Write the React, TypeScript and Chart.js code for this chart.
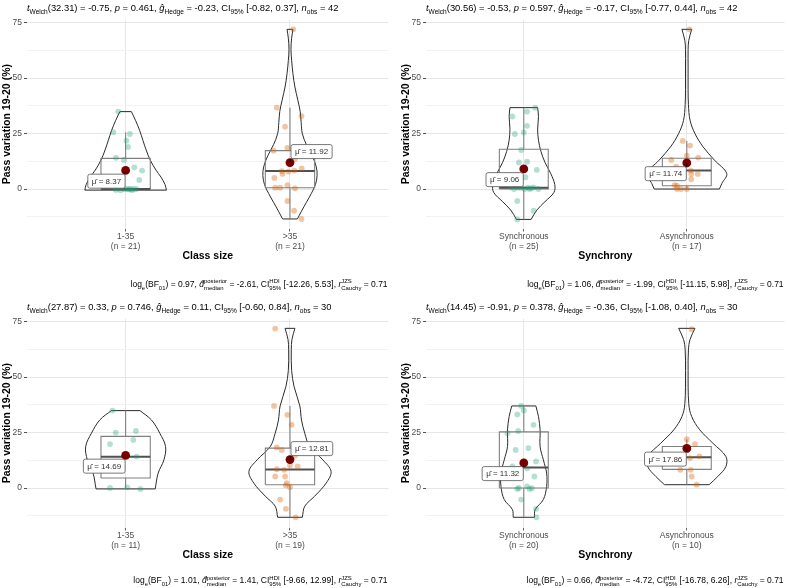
import React, { useEffect, useRef } from "react";
import { Chart, registerables } from "chart.js";

Chart.register(...registerables);

const FONT = '"Liberation Sans", Arial, Helvetica, sans-serif';
Chart.defaults.font.family = FONT;

// ---------------- shared ----------------
const yAxisTitle = "Pass variation 19-20 (%)";
const yTickValues = [-12.5, 0, 12.5, 25, 37.5, 50, 62.5, 75];
const yMin = -17.8;
const yMax = 76.3;

// ---------------- Panel 1 : Class size (all) ----------------
const p1Categories = ["1-35", ">35"];
const p1Counts = [21, 21];
const p1XTitle = "Class size";
const p1G1Values = [34.9, 25.6, 24.8, 21.8, 19.0, 14.1, 13.1, 9.8, 8.3, 4.1, 0.4, 0.2, 0, 0, 0, 0, 0, -0.2, -0.4, -0.5, -0.5];
const p1G1Jitter = [-0.045, -0.075, 0.026, 0.005, 0.015, -0.059, -0.01, 0.053, 0.1, 0.083, -0.075, -0.045, -0.01, 0.025, 0.045, 0.065, 0.005, 0.02, -0.06, -0.03, 0.04];
const p1G2Values = [72.0, 36.7, 32.9, 28.1, 18.5, 17.3, 13.5, 12.0, 9.3, 8.3, 8.1, 7.8, 6.8, 5.0, 1.7, 0.6, 0.6, 0.3, -5.4, -9.8, -13.5];
const p1G2Jitter = [0.02, -0.08, 0.07, -0.03, -0.016, -0.1, 0.03, 0.0, 0.071, 0.026, -0.05, -0.01, -0.045, -0.095, -0.015, -0.09, -0.06, 0.03, -0.015, 0.025, 0.07];
const p1G1Box = [-0.5, 0, 0, 13.8, 25.6]; // lower whisker, q1, median, q3, upper whisker
const p1G2Box = [-13.5, 0.6, 8.1, 17.3, 36.7];
const p1Means = [8.37, 11.92];
const p1G1ViolinY = [34.9, 31, 26.5, 22, 17.6, 13, 8.5, 5.4, 2, -0.5];
const p1G1ViolinW = [0.035, 0.06, 0.085, 0.105, 0.125, 0.15, 0.185, 0.215, 0.24, 0.248];
const p1G2ViolinY = [72, 68, 63, 58, 52, 46, 40, 35, 30, 25, 20, 15, 10, 6, 2, -2, -6, -10, -13.5];
const p1G2ViolinW = [0.018, 0.01, 0.006, 0.01, 0.018, 0.03, 0.048, 0.062, 0.068, 0.075, 0.1, 0.135, 0.16, 0.165, 0.155, 0.13, 0.1, 0.07, 0.045];
const p1Subtitle = ["32.31", "-0.75", "0.461", "-0.23", "-0.82", "0.37", "42"];
const p1Caption = ["0.97", "-2.61", "-12.26", "5.53", "0.71"];

// ---------------- Panel 2 : Synchrony (all) ----------------
const p2Categories = ["Synchronous", "Asynchronous"];
const p2Counts = [25, 17];
const p2XTitle = "Synchrony";
const p2G1Values = [36.7, 34.9, 32.7, 28.5, 25.5, 24.8, 17.6, 12.3, 12.0, 9.0, 8.6, 5.3, 0.8, 0.7, 0.6, 0.6, 0.6, 0.3, 0, 0, 0, 0, -5.4, -9.8, -13.7];
const p2G1Jitter = [0.07, 0.02, -0.07, 0.02, 0.0, -0.055, -0.016, 0.02, -0.03, 0.0, 0.08, 0.01, -0.08, 0.06, -0.035, -0.015, 0.025, 0.045, -0.06, 0.005, 0.035, 0.09, -0.04, 0.06, -0.04];
const p2G2Values = [72.0, 21.7, 19.6, 15.0, 14.2, 13.1, 10.1, 8.5, 8.3, 6.8, 6.8, 4.4, 1.8, 1.5, 0, 0, 0];
const p2G2Jitter = [0.016, -0.025, 0.02, 0.0, 0.07, -0.095, -0.065, -0.03, 0.025, 0.027, 0.067, 0.027, -0.075, -0.06, -0.06, -0.035, 0.0];
const p2G1Box = [-13.7, 0, 0.6, 17.9, 36.7];
const p2G2Box = [0, 1.5, 8.3, 13.9, 21.7];
const p2Means = [9.06, 11.74];
const p2G1ViolinY = [36.7, 32.7, 27, 22, 17, 12, 7, 2, -1.5, -5.7, -9.5, -13.7];
const p2G1ViolinW = [0.085, 0.09, 0.085, 0.09, 0.105, 0.13, 0.165, 0.19, 0.185, 0.13, 0.08, 0.045];
const p2G2ViolinY = [72, 67, 62.8, 55, 45, 38, 31, 25, 19, 13, 7, 2.5, 0];
const p2G2ViolinW = [0.03, 0.012, 0.008, 0.008, 0.008, 0.01, 0.02, 0.05, 0.1, 0.17, 0.245, 0.215, 0.2];
const p2Subtitle = ["30.56", "-0.53", "0.597", "-0.17", "-0.77", "0.44", "42"];
const p2Caption = ["1.06", "-1.99", "-11.15", "5.98", "0.71"];

// ---------------- Panel 3 : Class size (subset) ----------------
const p3Categories = ["1-35", ">35"];
const p3Counts = [11, 19];
const p3XTitle = "Class size";
const p3G1Values = [34.9, 25.7, 25.0, 21.7, 19.8, 14.2, 11.7, 8.7, 0.3, 0, -0.4];
const p3G1Jitter = [-0.08, 0.063, -0.06, 0.047, -0.095, 0.067, -0.04, -0.07, 0.01, -0.095, 0.09];
const p3G2Values = [71.9, 37.0, 33.0, 28.5, 18.3, 17.2, 14.5, 10.2, 9.7, 8.5, 8.2, 5.2, 5.2, 2.2, 1.2, 0.4, -5.2, -9.4, -13.2];
const p3G2Jitter = [-0.09, -0.097, -0.016, 0.01, -0.08, -0.05, 0.03, 0.0, 0.047, -0.08, -0.035, -0.09, -0.03, -0.02, -0.025, 0.0, -0.06, -0.025, 0.035];
const p3G1Box = [-0.4, 4.5, 14.1, 23.3, 34.9];
const p3G2Box = [-13.2, 1.5, 8.4, 18.0, 37.0];
const p3Means = [14.69, 12.81];
const p3G1ViolinY = [34.9, 30.7, 24.7, 18.7, 12.7, 6.7, -0.4];
const p3G1ViolinW = [0.087, 0.157, 0.208, 0.243, 0.233, 0.198, 0.18];
const p3G2ViolinY = [72, 67, 62.3, 53, 45.7, 37, 30.7, 24.7, 18.7, 12.7, 7.5, 2.2, -3.7, -8.2, -13.2];
const p3G2ViolinW = [0.03, 0.012, 0.008, 0.01, 0.025, 0.06, 0.07, 0.09, 0.12, 0.2, 0.25, 0.22, 0.15, 0.09, 0.075];
const p3Subtitle = ["27.87", "0.33", "0.746", "0.11", "-0.60", "0.84", "30"];
const p3Caption = ["1.01", "1.41", "-9.66", "12.99", "0.71"];

// ---------------- Panel 4 : Synchrony (subset) ----------------
const p4Categories = ["Synchronous", "Asynchronous"];
const p4Counts = [20, 10];
const p4XTitle = "Synchrony";
const p4G1Values = [37.0, 35.0, 33.2, 28.5, 25.7, 24.7, 18.0, 17.2, 12.0, 9.7, 8.9, 5.2, 0.7, 0, -0.1, -0.4, -0.4, -5.2, -9.4, -13.2];
const p4G1Jitter = [-0.016, 0.0, -0.04, 0.06, -0.034, -0.1, 0.028, -0.05, 0.075, -0.07, 0.02, 0.065, 0.02, -0.03, 0.05, -0.04, 0.035, -0.016, 0.075, 0.077];
const p4G2Values = [71.6, 22.0, 19.8, 17.0, 14.3, 13.5, 8.2, 8.2, 5.2, 1.5];
const p4G2Jitter = [0.03, 0.0, 0.05, 0.0, 0.077, 0.02, -0.04, 0.024, 0.03, 0.06];
const p4G1Box = [-13.2, 0, 9.3, 25.3, 37.0];
const p4G2Box = [1.5, 8.4, 13.9, 18.7, 22.0];
const p4Means = [11.32, 17.86];
const p4G1ViolinY = [37, 32.2, 26.2, 18.7, 12.7, 6.7, 0.7, -5.2, -9.7, -13.2];
const p4G1ViolinW = [0.074, 0.09, 0.1, 0.1, 0.12, 0.14, 0.14, 0.12, 0.07, 0.065];
const p4G2ViolinY = [72, 67, 62.3, 53, 38, 32.2, 26.2, 20.2, 14.2, 9.7, 5.2, 1.5];
const p4G2ViolinW = [0.05, 0.02, 0.01, 0.008, 0.012, 0.03, 0.08, 0.16, 0.24, 0.24, 0.19, 0.137];
const p4Subtitle = ["14.45", "-0.91", "0.378", "-0.36", "-1.08", "0.40", "30"];
const p4Caption = ["0.66", "-4.72", "-16.78", "6.26", "0.71"];

// ---------------- styling ----------------
const POINT_COLORS = ["rgba(27,158,119,0.33)", "rgba(217,95,2,0.36)"];
const MEAN_COLOR = "#7A0000";
const VIOLIN_COLOR = "#2b2b2b";
const BOX_COLOR = "#808080";
const MEDIAN_COLOR = "#505050";

type Part = { t: string; it?: boolean; sub?: string; sup?: string };

function subtitleParts(s: string[]): Part[] {
  return [
    { t: "t", it: true, sub: "Welch" },
    { t: `(${s[0]}) = ${s[1]}, ` },
    { t: "p", it: true },
    { t: ` = ${s[2]}, ` },
    { t: "g\u0302", it: true, sub: "Hedge" },
    { t: ` = ${s[3]}, CI`, sub: "95%" },
    { t: ` [${s[4]}, ${s[5]}], ` },
    { t: "n", it: true, sub: "obs" },
    { t: ` = ${s[6]}` },
  ];
}

function captionParts(c: string[]): Part[] {
  return [
    { t: "log", sub: "e" },
    { t: "(BF", sub: "01" },
    { t: `) = ${c[0]}, ` },
    { t: "d\u0302", it: true, sup: "posterior", sub: "median" },
    { t: ` = ${c[1]}, CI`, sup: "HDI", sub: "95%" },
    { t: ` [${c[2]}, ${c[3]}], ` },
    { t: "r", it: true, sup: "JZS", sub: "Cauchy" },
    { t: ` = ${c[4]}` },
  ];
}

function drawRich(ctx: CanvasRenderingContext2D, parts: Part[], x: number, yMid: number, size: number, align: "left" | "right", color: string) {
  const ss = size * 0.7;
  const mf = (it?: boolean) => `${it ? "italic " : ""}${size}px ${FONT}`;
  const sf = `${ss}px ${FONT}`;
  const meas = parts.map((p) => {
    ctx.font = mf(p.it);
    const w = ctx.measureText(p.t).width;
    ctx.font = sf;
    const a = p.sub ? ctx.measureText(p.sub).width : 0;
    const b = p.sup ? ctx.measureText(p.sup).width : 0;
    return [w, Math.max(a, b)];
  });
  const total = meas.reduce((s, m) => s + m[0] + m[1], 0);
  let cx = align === "left" ? x : x - total;
  const base = yMid + size * 0.35;
  ctx.save();
  ctx.fillStyle = color;
  ctx.textAlign = "left";
  ctx.textBaseline = "alphabetic";
  parts.forEach((p, i) => {
    ctx.font = mf(p.it);
    ctx.fillText(p.t, cx, base);
    cx += meas[i][0];
    ctx.font = sf;
    if (p.sub) ctx.fillText(p.sub, cx, base + size * 0.3);
    if (p.sup) ctx.fillText(p.sup, cx, base - size * 0.45);
    cx += meas[i][1];
  });
  ctx.restore();
}

type PanelData = {
  cats: string[];
  counts: number[];
  xTitle: string;
  values: number[][];
  jitter: number[][];
  box: number[][];
  means: number[];
  violinY: number[][];
  violinW: number[][];
  subtitle: string[];
  caption: string[];
  labelSide: ("left" | "right")[];
};

const panels: PanelData[] = [
  {
    cats: p1Categories, counts: p1Counts, xTitle: p1XTitle,
    values: [p1G1Values, p1G2Values], jitter: [p1G1Jitter, p1G2Jitter],
    box: [p1G1Box, p1G2Box], means: p1Means,
    violinY: [p1G1ViolinY, p1G2ViolinY], violinW: [p1G1ViolinW, p1G2ViolinW],
    subtitle: p1Subtitle, caption: p1Caption, labelSide: ["left", "right"],
  },
  {
    cats: p2Categories, counts: p2Counts, xTitle: p2XTitle,
    values: [p2G1Values, p2G2Values], jitter: [p2G1Jitter, p2G2Jitter],
    box: [p2G1Box, p2G2Box], means: p2Means,
    violinY: [p2G1ViolinY, p2G2ViolinY], violinW: [p2G1ViolinW, p2G2ViolinW],
    subtitle: p2Subtitle, caption: p2Caption, labelSide: ["left", "left"],
  },
  {
    cats: p3Categories, counts: p3Counts, xTitle: p3XTitle,
    values: [p3G1Values, p3G2Values], jitter: [p3G1Jitter, p3G2Jitter],
    box: [p3G1Box, p3G2Box], means: p3Means,
    violinY: [p3G1ViolinY, p3G2ViolinY], violinW: [p3G1ViolinW, p3G2ViolinW],
    subtitle: p3Subtitle, caption: p3Caption, labelSide: ["left", "right"],
  },
  {
    cats: p4Categories, counts: p4Counts, xTitle: p4XTitle,
    values: [p4G1Values, p4G2Values], jitter: [p4G1Jitter, p4G2Jitter],
    box: [p4G1Box, p4G2Box], means: p4Means,
    violinY: [p4G1ViolinY, p4G2ViolinY], violinW: [p4G1ViolinW, p4G2ViolinW],
    subtitle: p4Subtitle, caption: p4Caption, labelSide: ["left", "left"],
  },
];

function lineSet(data: { x: number; y: number }[], color: string, width: number, order: number, tension = 0) {
  return {
    data, showLine: true, borderColor: color, borderWidth: width,
    pointRadius: 0, pointHoverRadius: 0, tension, order, fill: false,
  };
}

function buildConfig(P: PanelData, padRight: number, padBottom: number, captionY: number): any {
  const datasets: any[] = [];
  for (let g = 0; g < 2; g++) {
    const c = g + 1;
    const vy = P.violinY[g];
    const vw = P.violinW[g];
    // violin outline
    datasets.push(lineSet(vy.map((y, k) => ({ x: c - vw[k], y })), VIOLIN_COLOR, 1, 6, 0.35));
    datasets.push(lineSet(vy.map((y, k) => ({ x: c + vw[k], y })), VIOLIN_COLOR, 1, 6, 0.35));
    const last = vy.length - 1;
    datasets.push(lineSet([{ x: c - vw[0], y: vy[0] }, { x: c + vw[0], y: vy[0] }], VIOLIN_COLOR, 1, 6));
    datasets.push(lineSet([{ x: c - vw[last], y: vy[last] }, { x: c + vw[last], y: vy[last] }], VIOLIN_COLOR, 1, 6));
    // box
    const [lo, q1, med, q3, hi] = P.box[g];
    const hb = 0.15;
    datasets.push(lineSet([
      { x: c - hb, y: q1 }, { x: c + hb, y: q1 }, { x: c + hb, y: q3 }, { x: c - hb, y: q3 }, { x: c - hb, y: q1 },
    ], BOX_COLOR, 1.1, 5));
    datasets.push(lineSet([{ x: c, y: q3 }, { x: c, y: hi }], BOX_COLOR, 1.1, 5));
    datasets.push(lineSet([{ x: c, y: q1 }, { x: c, y: lo }], BOX_COLOR, 1.1, 5));
    datasets.push(lineSet([{ x: c - hb, y: med }, { x: c + hb, y: med }], MEDIAN_COLOR, 2, 4));
    // jittered points
    datasets.push({
      data: P.values[g].map((v, k) => ({ x: c + P.jitter[g][k], y: v })),
      showLine: false, pointRadius: 2.9, pointHoverRadius: 2.9, pointBorderWidth: 0,
      pointBackgroundColor: POINT_COLORS[g], backgroundColor: POINT_COLORS[g], borderColor: "rgba(0,0,0,0)", order: 2,
    });
    // mean
    datasets.push({
      data: [{ x: c, y: P.means[g] }],
      showLine: false, pointRadius: 4.4, pointHoverRadius: 4.4, pointBorderWidth: 0,
      pointBackgroundColor: MEAN_COLOR, backgroundColor: MEAN_COLOR, borderColor: "rgba(0,0,0,0)", order: 1,
    });
  }

  const annot = {
    id: "annot",
    afterDraw(chart: any) {
      const ctx: CanvasRenderingContext2D = chart.ctx;
      const area = chart.chartArea;
      const xs = chart.scales.x;
      const ys = chart.scales.y;
      // mean labels
      for (let g = 0; g < 2; g++) {
        const px = xs.getPixelForValue(g + 1);
        const py = ys.getPixelForValue(P.means[g]);
        const text = `\u03BC\u0302 = ${P.means[g].toFixed(2)}`;
        ctx.save();
        ctx.font = `8px ${FONT}`;
        const tw = ctx.measureText(text).width;
        const w = tw + 8;
        const h = 14;
        let bx: number, by: number, cx: number, cy: number;
        if (P.labelSide[g] === "left") {
          bx = px - 0.5 - w; by = py + 3.7; cx = bx + w; cy = by;
        } else {
          bx = px + 1; by = py - 4 - h; cx = bx; cy = by + h;
        }
        ctx.strokeStyle = "#000";
        ctx.lineWidth = 0.7;
        ctx.beginPath(); ctx.moveTo(cx, cy); ctx.lineTo(px, py); ctx.stroke();
        ctx.beginPath();
        ctx.roundRect(bx, by, w, h, 2);
        ctx.fillStyle = "#ffffff";
        ctx.fill();
        ctx.strokeStyle = "#555";
        ctx.lineWidth = 0.8;
        ctx.stroke();
        ctx.fillStyle = "#333";
        ctx.textAlign = "center";
        ctx.textBaseline = "middle";
        ctx.fillText(text, bx + w / 2, by + h / 2 + 0.5);
        ctx.restore();
      }
      drawRich(ctx, subtitleParts(P.subtitle), area.left, 7.5, 9.4, "left", "#000");
      drawRich(ctx, captionParts(P.caption), area.right - 1, captionY, 8.5, "right", "#000");
    },
  };

  return {
    type: "scatter",
    data: { datasets },
    options: {
      responsive: false,
      animation: false,
      devicePixelRatio: 1,
      events: [],
      layout: { padding: { left: 0, right: padRight, top: 19.8, bottom: padBottom } },
      plugins: { legend: { display: false }, tooltip: { enabled: false }, title: { display: false } },
      scales: {
        x: {
          type: "linear", min: 0.4, max: 2.6,
          afterBuildTicks: (s: any) => { s.ticks = [{ value: 1 }, { value: 2 }]; },
          afterFit: (s: any) => { s.height = 40; },
          ticks: {
            callback: (_v: any, i: number) => [P.cats[i], `(n = ${P.counts[i]})`],
            font: { size: 8.5, lineHeight: 1.2 }, color: "#4D4D4D", padding: 0, maxRotation: 0, autoSkip: false,
          },
          grid: { color: "#E6E6E6", lineWidth: 1, tickLength: 3, tickColor: "#666", drawTicks: true },
          border: { display: false },
          title: { display: true, text: P.xTitle, font: { size: 10.5, weight: "bold" }, color: "#000", padding: { top: 0, bottom: 5.8 } },
        },
        y: {
          type: "linear", min: yMin, max: yMax,
          afterBuildTicks: (s: any) => { s.ticks = yTickValues.map((v) => ({ value: v })); },
          afterFit: (s: any) => { s.width = 27; },
          ticks: {
            callback: (v: any) => (Number(v) % 25 === 0 ? String(v) : ""),
            font: { size: 8.5 }, color: "#4D4D4D", padding: 2, autoSkip: false,
          },
          grid: {
            color: (ctx: any) => (ctx.tick && ctx.tick.value % 25 === 0 ? "#E6E6E6" : "#F2F2F2"),
            tickColor: (ctx: any) => (ctx.tick && ctx.tick.value % 25 === 0 ? "#555" : "rgba(0,0,0,0)"),
            tickLength: 3, lineWidth: 1,
          },
          border: { display: false },
          title: { display: true, text: yAxisTitle, font: { size: 10.5, weight: "bold" }, color: "#000", padding: { top: 1, bottom: 0 } },
        },
      },
    },
    plugins: [annot],
  };
}

function PanelChart(props: { panel: PanelData; left: number; top: number; width: number; height: number; padRight: number; padBottom: number; captionY: number }) {
  const ref = useRef<HTMLCanvasElement | null>(null);
  useEffect(() => {
    if (!ref.current) return;
    const chart = new Chart(ref.current, buildConfig(props.panel, props.padRight, props.padBottom, props.captionY));
    return () => chart.destroy();
  }, []);
  return (
    <canvas
      ref={ref}
      width={props.width}
      height={props.height}
      style={{ position: "absolute", left: props.left, top: props.top, width: props.width, height: props.height }}
    />
  );
}

export default function App() {
  return (
    <div style={{ position: "fixed", left: 0, top: 0, width: 789, height: 588, background: "#ffffff", overflow: "hidden" }}>
      <PanelChart panel={panels[0]} left={0} top={0} width={394} height={299} padRight={5.4} padBottom={30.5} captionY={284.3} />
      <PanelChart panel={panels[1]} left={399} top={0} width={390} height={299} padRight={0.4} padBottom={30.5} captionY={284.3} />
      <PanelChart panel={panels[2]} left={0} top={299} width={394} height={289} padRight={5.4} padBottom={20.5} captionY={281.5} />
      <PanelChart panel={panels[3]} left={399} top={299} width={390} height={289} padRight={0.4} padBottom={20.5} captionY={281.5} />
    </div>
  );
}
